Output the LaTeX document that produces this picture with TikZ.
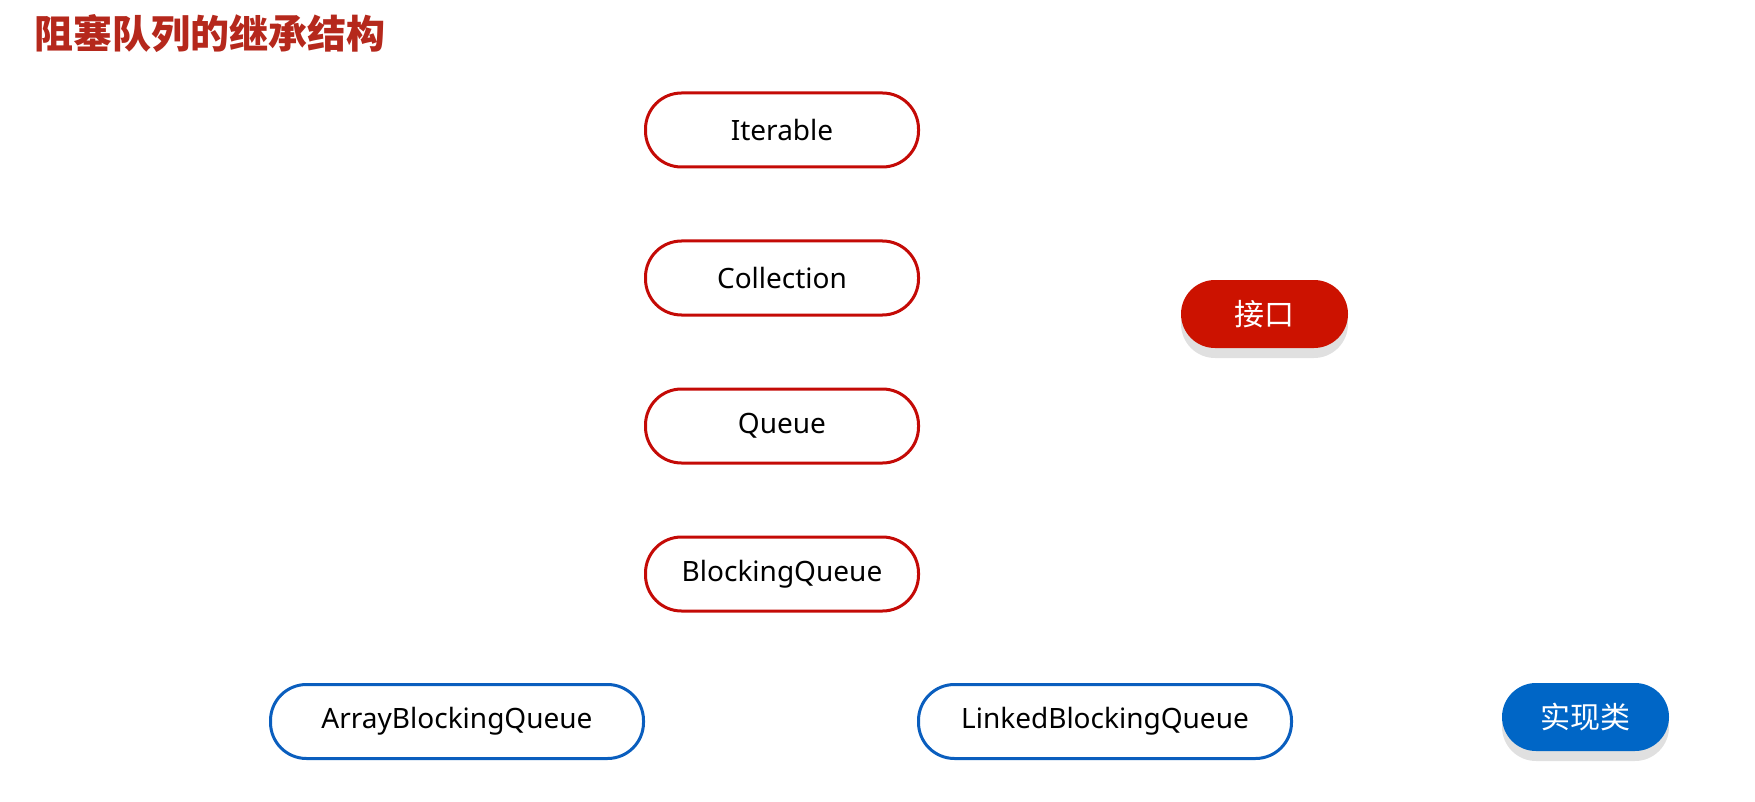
\documentclass[tikz,border=0pt]{standalone}
\usepackage{fontspec}
\setmainfont{Noto Sans}
\newfontfamily\cjk{Noto Sans CJK SC}
\usetikzlibrary{shadows}
\definecolor{ifline}{HTML}{C40A06}
\definecolor{implline}{HTML}{0A5EBE}
\definecolor{ifred}{HTML}{CC1200}
\definecolor{implblue}{HTML}{0066C6}
\definecolor{titlered}{HTML}{B5281C}
\tikzset{
  iface/.style={draw=ifline,line width=1.5pt,rounded corners=18pt,minimum width=136.5pt,minimum height=37pt,inner sep=0pt,font=\fontsize{14}{16}\selectfont},
  impl/.style={iface,draw=implline,minimum width=186.5pt},
  tagbox/.style={rounded corners=17pt,minimum width=83.5pt,minimum height=34pt,inner sep=0pt,text=white,font=\cjk\fontsize{15}{18}\selectfont,general shadow={fill=black!12,shadow yshift=-5pt,shadow xshift=0pt}}
}
\begin{document}
\begin{tikzpicture}[x=0.5pt,y=-0.5pt]
\useasboundingbox (0,0) rectangle (1755,802);

\node[anchor=west,text=titlered,font=\cjk\bfseries\fontsize{19.5}{22}\selectfont] (title) at (27,34) {阻塞队列的继承结构};

\node[iface] (iterable) at (782,130) {Iterable};
\node[iface] (collection) at (782,278) {Collection};
\node[iface] (queue) at (782,426) {Queue};
\node[iface] (bq) at (782,574) {BlockingQueue};

\node[impl] (abq) at (457,721.5) {ArrayBlockingQueue};
\node[impl] (lbq) at (1105,721.5) {LinkedBlockingQueue};

\node[tagbox,fill=ifred] (ifacetag) at (1264.5,314) {接口};
\node[tagbox,fill=implblue] (impltag) at (1585.5,717) {实现类};
\end{tikzpicture}
\end{document}
